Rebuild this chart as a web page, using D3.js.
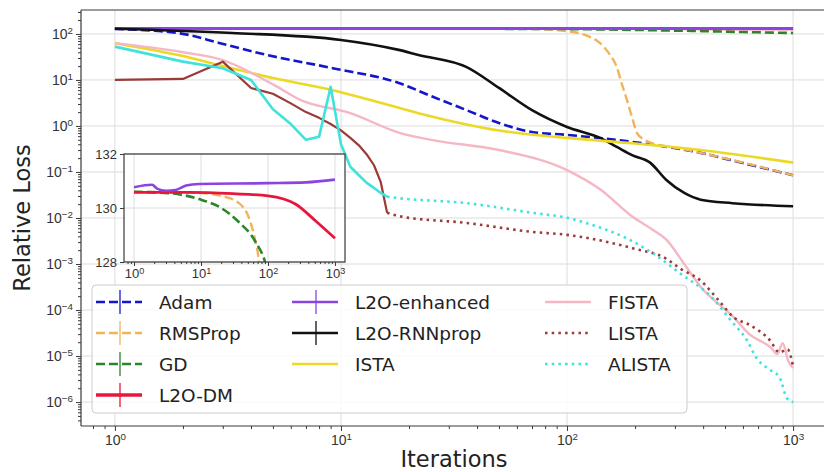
<!DOCTYPE html>
<html><head><meta charset="utf-8">
<script src="https://cdn.jsdelivr.net/npm/d3@7"></script>
<style>body{margin:0;background:#fff}svg{display:block;font-family:"DejaVu Sans",sans-serif}</style>
</head><body><svg id="c" width="824" height="472"></svg>
<script>
// ---------------- data ----------------
const seriesNames = ["Adam","RMSProp","GD","L2O-DM","L2O-enhanced","L2O-RNNprop","ISTA","FISTA","LISTA","ALISTA"];
const xTickVals = [1, 10, 100, 1000];
const yTickVals = [1e2, 1e1, 1e0, 1e-1, 1e-2, 1e-3, 1e-4, 1e-5, 1e-6];
const insetYTicks = [128, 130, 132];

const adamX = [1, 1.94, 2.92, 4.7, 9.2, 18, 25.5, 36, 50, 70, 100, 195, 390, 600, 1000];
const adamY = [128, 103, 63, 35, 18, 8.6, 4.3, 2.2, 1.16, 0.74, 0.64, 0.45, 0.26, 0.156, 0.085];

const rmsX = [1, 10, 20, 36, 52, 65, 73, 100, 120, 140, 155, 166, 175, 184, 195, 204, 220, 235, 300, 390, 600, 1000];
const rmsY = [130.6, 130.55, 130.45, 130.2, 129.63, 128.75, 128, 115, 95, 63, 35, 19, 8, 3.7, 1.4, 0.7, 0.5, 0.43, 0.34, 0.26, 0.16, 0.085];

const gdX = [1, 3.3, 9.3, 20, 36, 65, 93, 150, 250, 400, 600, 1000];
const gdY = [130.6, 130.55, 130.33, 130.0, 129.5, 128.75, 127.9, 125, 120, 115, 110, 105];

const dmX = [1, 6.6, 30, 100, 260, 520, 1000];
const dmY = [130.58, 130.58, 130.53, 130.45, 130.14, 129.51, 128.88];

const enhX = [1, 1.86, 2.2, 3, 4.2, 6, 9.3, 100, 370, 1000];
const enhY = [130.77, 130.86, 130.72, 130.64, 130.67, 130.83, 130.89, 130.92, 130.95, 131.05];

const rnnX = [1, 3.3, 10, 18, 22, 36, 50, 70, 100, 140, 166, 195, 233, 275, 330, 390, 540, 1000];
const rnnY = [130, 105, 74, 45, 35, 19, 6.7, 2.2, 0.95, 0.55, 0.35, 0.23, 0.16, 0.067, 0.035, 0.025, 0.021, 0.018];

const istaX = [1, 2, 3, 5, 9.2, 14, 22, 50, 100, 195, 390, 1000];
const istaY = [63, 33, 20, 11, 6, 3.5, 1.9, 0.8, 0.55, 0.42, 0.30, 0.16];

const fistaX = [1, 2, 3, 5, 6.6, 11, 18, 25, 50, 100, 140, 195, 240, 275, 330, 390, 545, 640, 800, 850, 900, 950, 1000];
const fistaY = [63, 40, 27, 8, 3.7, 1.9, 0.72, 0.5, 0.3, 0.11, 0.042, 0.0106, 0.0055, 0.0034, 0.001, 3.2e-4, 7e-5, 3e-5, 1.5e-5, 1.1e-5, 1.9e-5, 8e-6, 5.5e-6];

const listaSolidX = [1,2,3,4,5,6,7,8,9,10,11,12,13,14,15,16];
const listaSolidY = [10, 10.5, 25, 6.7, 5, 3.1, 2.0, 1.5, 1.1, 0.8, 0.55, 0.38, 0.24, 0.14, 0.06, 0.013];
const listaDotX = [16, 18, 36, 70, 100, 195, 275, 316, 387, 475, 545, 645, 790, 870, 945, 1000];
const listaDotY = [0.013, 0.011, 0.0078, 0.005, 0.0043, 0.0022, 0.0013, 8e-4, 4.5e-4, 1.5e-4, 7e-5, 4.7e-5, 2.2e-5, 1.2e-5, 1.4e-5, 6e-6];

const alistaSolidX = [1,2,3,4,5,6,7,8,9,10,11,12,13,14,15,16];
const alistaSolidY = [53, 25, 18, 10, 2.3, 1.1, 0.5, 0.58, 7.1, 0.4, 0.13, 0.085, 0.058, 0.045, 0.035, 0.029];
const alistaDotX = [16, 18, 36, 70, 100, 140, 184, 240, 316, 446, 525, 625, 690, 790, 870, 940, 1000];
const alistaDotY = [0.029, 0.027, 0.021, 0.013, 0.0101, 0.0062, 0.0036, 0.0017, 6.3e-4, 1.7e-4, 6.3e-5, 2.2e-5, 9e-6, 5e-6, 3.5e-6, 1.2e-6, 1e-6];

// ---------------- styles ----------------
const C = {
  "Adam":"#1515cc", "RMSProp":"#f2b45a", "GD":"#2a862a", "L2O-DM":"#e8163c",
  "L2O-enhanced":"#8b44e0", "L2O-RNNprop":"#111111", "ISTA":"#ecd925",
  "FISTA":"#f5b7c4", "LISTA":"#9b3a36", "ALISTA":"#3fe3dc"
};
const DASH = "9,4", DOT = "2.5,4.2";

const svg = d3.select("#c");
const M = {l:81, r:827, t:10, b:426};
const x = d3.scaleLog().domain([Math.pow(10,-0.15), Math.pow(10,3.15)]).range([M.l, M.r]);
const y = d3.scaleLog().domain([Math.pow(10,-6.52), Math.pow(10,2.52)]).range([M.b, M.t]);

svg.append("defs").append("clipPath").attr("id","mainclip")
  .append("rect").attr("x",M.l).attr("y",M.t).attr("width",M.r-M.l).attr("height",M.b-M.t);

// grid
const grid = svg.append("g").attr("stroke","#dcdcdc").attr("stroke-width",1);
xTickVals.forEach(v=>grid.append("line").attr("x1",x(v)).attr("x2",x(v)).attr("y1",M.t).attr("y2",M.b));
yTickVals.forEach(v=>grid.append("line").attr("y1",y(v)).attr("y2",y(v)).attr("x1",M.l).attr("x2",M.r));

function minors(lo, hi){ const a=[]; for(let e=lo;e<=hi;e++) for(let k=2;k<=9;k++) a.push(k*Math.pow(10,e)); return a; }

function sup(sel){
  sel.each(function(d){
    const e = Math.round(Math.log10(d));
    const t = d3.select(this); t.text(null);
    t.append("tspan").text("10");
    t.append("tspan").attr("dy","-0.5em").attr("font-size","0.7em").text(e<0 ? "\u2212"+(-e) : String(e));
  });
}

// lines
const plot = svg.append("g").attr("clip-path","url(#mainclip)");
function drawLine(g, xs, ys, sx, sy, color, width, dash, curve){
  const pts = xs.map((v,i)=>[v, ys[i]]);
  const ln = d3.line().x(d=>sx(d[0])).y(d=>sy(d[1])).curve(curve || d3.curveMonotoneX);
  g.append("path").attr("d", ln(pts)).attr("fill","none").attr("stroke",color)
    .attr("stroke-width",width).attr("stroke-dasharray",dash||null).attr("stroke-linejoin","round");
}
drawLine(plot, adamX, adamY, x, y, C["Adam"], 2.6, DASH);
drawLine(plot, rmsX, rmsY, x, y, C["RMSProp"], 2.4, DASH);
drawLine(plot, gdX, gdY, x, y, C["GD"], 2.6, DASH);
drawLine(plot, dmX, dmY, x, y, C["L2O-DM"], 2.8);
drawLine(plot, enhX, enhY, x, y, C["L2O-enhanced"], 3);
drawLine(plot, rnnX, rnnY, x, y, C["L2O-RNNprop"], 2.6);
drawLine(plot, istaX, istaY, x, y, C["ISTA"], 2.6);
drawLine(plot, fistaX, fistaY, x, y, C["FISTA"], 2.4);
drawLine(plot, listaSolidX, listaSolidY, x, y, C["LISTA"], 2.2, null, d3.curveLinear);
drawLine(plot, listaDotX, listaDotY, x, y, C["LISTA"], 2.6, DOT);
drawLine(plot, alistaSolidX, alistaSolidY, x, y, C["ALISTA"], 2.6, null, d3.curveLinear);
drawLine(plot, alistaDotX, alistaDotY, x, y, C["ALISTA"], 2.6, DOT);

// spines
const sp = svg.append("g").attr("stroke","#3a3a3a").attr("stroke-width",1.2);
sp.append("line").attr("x1",M.l).attr("x2",M.l).attr("y1",M.t).attr("y2",M.b);
sp.append("line").attr("x1",M.l).attr("x2",M.r).attr("y1",M.b).attr("y2",M.b);
sp.append("line").attr("x1",M.l).attr("x2",M.r).attr("y1",M.t).attr("y2",M.t);

// axes
const xAx = svg.append("g").attr("transform",`translate(0,${M.b})`)
  .call(d3.axisBottom(x).tickValues(xTickVals).tickSize(5).tickPadding(4));
xAx.select(".domain").remove();
xAx.selectAll("text").attr("font-size",14).attr("fill","#333").call(sup);
const xMin = svg.append("g").attr("transform",`translate(0,${M.b})`)
  .call(d3.axisBottom(x).tickValues(minors(-1,3).filter(v=>v>x.domain()[0]&&v<x.domain()[1])).tickSize(3).tickFormat(""));
xMin.select(".domain").remove();
const yAx = svg.append("g").attr("transform",`translate(${M.l},0)`)
  .call(d3.axisLeft(y).tickValues(yTickVals).tickSize(5).tickPadding(3));
yAx.select(".domain").remove();
yAx.selectAll("text").attr("font-size",14).attr("fill","#333").call(sup);
const yMin = svg.append("g").attr("transform",`translate(${M.l},0)`)
  .call(d3.axisLeft(y).tickValues(minors(-7,2).filter(v=>v>y.domain()[0]&&v<y.domain()[1])).tickSize(3).tickFormat(""));
yMin.select(".domain").remove();
svg.selectAll(".tick line").attr("stroke","#3a3a3a");

svg.append("text").attr("x",(M.l+M.r)/2).attr("y",467).attr("text-anchor","middle")
  .attr("font-size",22.5).attr("fill","#222").text("Iterations");
svg.append("text").attr("transform",`translate(30,${(M.t+M.b)/2}) rotate(-90)`).attr("text-anchor","middle")
  .attr("font-size",22.5).attr("fill","#222").text("Relative Loss");

// ---------------- inset ----------------
const I = {l:124, r:345, t:154, b:262};
const ix = d3.scaleLog().domain([Math.pow(10,-0.15), Math.pow(10,3.15)]).range([I.l, I.r]);
const iy = d3.scaleLinear().domain([128,132]).range([I.b, I.t]);
svg.select("defs").append("clipPath").attr("id","insclip")
  .append("rect").attr("x",I.l).attr("y",I.t).attr("width",I.r-I.l).attr("height",I.b-I.t);
svg.append("rect").attr("x",I.l).attr("y",I.t).attr("width",I.r-I.l).attr("height",I.b-I.t).attr("fill","#fff");
const ig = svg.append("g").attr("stroke","#dcdcdc").attr("stroke-width",1);
xTickVals.forEach(v=>ig.append("line").attr("x1",ix(v)).attr("x2",ix(v)).attr("y1",I.t).attr("y2",I.b));
insetYTicks.forEach(v=>ig.append("line").attr("y1",iy(v)).attr("y2",iy(v)).attr("x1",I.l).attr("x2",I.r));
const ip = svg.append("g").attr("clip-path","url(#insclip)");
drawLine(ip, rmsX, rmsY, ix, iy, C["RMSProp"], 2.4, DASH);
drawLine(ip, gdX, gdY, ix, iy, C["GD"], 2.6, DASH);
drawLine(ip, dmX, dmY, ix, iy, C["L2O-DM"], 2.8);
drawLine(ip, enhX, enhY, ix, iy, C["L2O-enhanced"], 2.6);
svg.append("rect").attr("x",I.l).attr("y",I.t).attr("width",I.r-I.l).attr("height",I.b-I.t)
  .attr("fill","none").attr("stroke","#3a3a3a").attr("stroke-width",1.2);
const ixAx = svg.append("g").attr("transform",`translate(0,${I.b})`)
  .call(d3.axisBottom(ix).tickValues(xTickVals).tickSize(4).tickPadding(3));
ixAx.select(".domain").remove();
ixAx.selectAll("text").attr("font-size",13).attr("fill","#333").call(sup);
const ixMin = svg.append("g").attr("transform",`translate(0,${I.b})`)
  .call(d3.axisBottom(ix).tickValues(minors(-1,3).filter(v=>v>ix.domain()[0]&&v<ix.domain()[1])).tickSize(2).tickFormat(""));
ixMin.select(".domain").remove();
const iyAx = svg.append("g").attr("transform",`translate(${I.l},0)`)
  .call(d3.axisLeft(iy).tickValues(insetYTicks).tickSize(4).tickPadding(3).tickFormat(d3.format("d")));
iyAx.select(".domain").remove();
iyAx.selectAll("text").attr("font-size",13).attr("fill","#333");
svg.selectAll(".tick line").attr("stroke","#3a3a3a");

// ---------------- legend ----------------
const lg = svg.append("g");
lg.append("rect").attr("x",92).attr("y",285).attr("width",595).attr("height",128).attr("rx",4)
  .attr("fill","#fff").attr("fill-opacity",0.85).attr("stroke","#cccccc");
const legendItems = [
  {n:"Adam", dash:DASH, bar:true}, {n:"RMSProp", dash:DASH, bar:true}, {n:"GD", dash:DASH, bar:true}, {n:"L2O-DM", dash:null, bar:true, w:3.5},
  {n:"L2O-enhanced", dash:null, bar:true}, {n:"L2O-RNNprop", dash:null, bar:true}, {n:"ISTA", dash:null, bar:false},
  {n:"FISTA", dash:null, bar:false}, {n:"LISTA", dash:DOT, bar:false}, {n:"ALISTA", dash:DOT, bar:false}
];
const colX = [96, 292, 545], colCount = [4,3,3];
const rowY = [302, 333, 364, 395];
let k = 0;
colCount.forEach((cnt, ci)=>{
  for(let r=0;r<cnt;r++){
    const it = legendItems[k++];
    const g = lg.append("g").attr("transform",`translate(${colX[ci]},${rowY[r]})`);
    g.append("line").attr("x1",0).attr("x2",46).attr("y1",0).attr("y2",0)
      .attr("stroke",C[it.n]).attr("stroke-width",it.w||2.6).attr("stroke-dasharray",it.dash);
    if(it.bar) g.append("line").attr("x1",24).attr("x2",24).attr("y1",-12).attr("y2",12)
      .attr("stroke",C[it.n]).attr("stroke-width",1.3);
    g.append("text").attr("x",63).attr("y",6.5).attr("font-size",18.5).attr("fill","#222").text(it.n);
  }
});
</script></body></html>
